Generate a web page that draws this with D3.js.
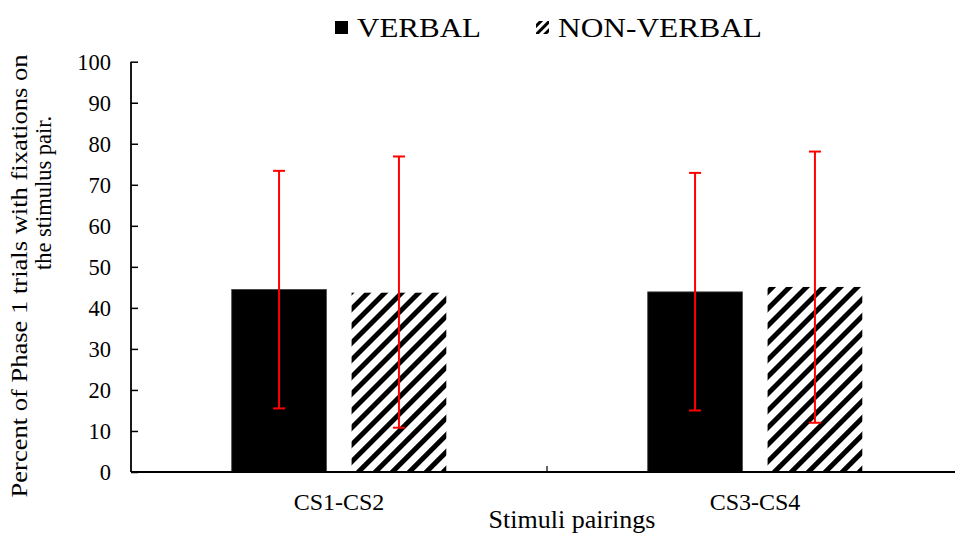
<!DOCTYPE html>
<html><head><meta charset="utf-8">
<script src="https://cdn.jsdelivr.net/npm/d3@7"></script>
<style>body{margin:0;background:#fff;} svg{display:block;font-family:"Liberation Serif","Times New Roman",serif;}</style>
</head><body><svg id="c" width="955" height="534"></svg>
<script>
const categories = ["CS1-CS2", "CS3-CS4"];
const seriesNames = ["VERBAL", "NON-VERBAL"];
const verbalValues = [44.5, 43.9];
const nonVerbalValues = [43.7, 45.1];
const verbalErrLow = [15.5, 15.0];
const verbalErrHigh = [73.4, 72.9];
const nonVerbalErrLow = [10.8, 12.0];
const nonVerbalErrHigh = [76.9, 78.1];
const yTicks = [0, 10, 20, 30, 40, 50, 60, 70, 80, 90, 100];

const svg = d3.select("#c");
const defs = svg.append("defs");
const pat = defs.append("pattern").attr("id","hatch").attr("patternUnits","userSpaceOnUse")
  .attr("width",12).attr("height",12).attr("patternTransform","rotate(45)");
pat.append("rect").attr("width",12).attr("height",12).attr("fill","#fff");
pat.append("rect").attr("x",0).attr("width",5).attr("height",12).attr("fill","#000");
const pat2 = defs.append("pattern").attr("id","hatchSmall").attr("patternUnits","userSpaceOnUse")
  .attr("width",6).attr("height",6).attr("patternTransform","rotate(45)");
pat2.append("rect").attr("width",6).attr("height",6).attr("fill","#fff");
pat2.append("rect").attr("x",0).attr("width",3).attr("height",6).attr("fill","#000");

const mLeft = 131, mRight = 963, mTop = 61.7, mBottom = 472;
const y = d3.scaleLinear().domain([0,100]).range([mBottom, mTop]);
const x0 = d3.scaleBand().domain(categories).range([mLeft, mRight]).padding(0);
const x1 = d3.scaleBand().domain(seriesNames).range([0, x0.bandwidth()]).paddingInner(0.21).paddingOuter(0.84);

const data = categories.map((c,i)=>({cat:c, vals:[
  {s:"VERBAL", v:verbalValues[i], lo:verbalErrLow[i], hi:verbalErrHigh[i]},
  {s:"NON-VERBAL", v:nonVerbalValues[i], lo:nonVerbalErrLow[i], hi:nonVerbalErrHigh[i]}]}));
const fillOf = s => s==="VERBAL" ? "#000" : "url(#hatch)";

const g = svg.append("g");
const groups = g.selectAll("g.cat").data(data).join("g").attr("transform", d=>`translate(${x0(d.cat)},0)`);
groups.selectAll("rect").data(d=>d.vals).join("rect")
  .attr("x", d=>x1(d.s)).attr("width", x1.bandwidth())
  .attr("y", d=>y(d.v)).attr("height", d=>y(0)-y(d.v))
  .attr("fill", d=>fillOf(d.s))
  .attr("stroke", d=>d.s==="VERBAL" ? "#444" : "none").attr("stroke-width",0.8);

// axes
const yAxis = d3.axisRight(y).tickValues(yTicks).tickSize(7).tickFormat("");
const ya = svg.append("g").attr("transform",`translate(${mLeft},0)`).call(yAxis);
ya.select(".domain").remove();
ya.selectAll(".tick line").attr("stroke","#000").attr("stroke-width",1.5);
svg.append("line").attr("x1",mLeft).attr("x2",mLeft).attr("y1",mTop).attr("y2",mBottom).attr("stroke","#000").attr("stroke-width",1.8);
svg.selectAll("text.ytl").data(yTicks).join("text").attr("class","ytl")
  .attr("x", 111).attr("y", d=>y(d)).attr("dy","0.35em").attr("text-anchor","end")
  .attr("font-size",22.5).text(d=>d);

svg.append("line").attr("x1",mLeft).attr("x2",955).attr("y1",mBottom).attr("y2",mBottom).attr("stroke","#000").attr("stroke-width",1.8);
// mid tick between categories
svg.append("line").attr("x1",x0(categories[1])).attr("x2",x0(categories[1])).attr("y1",mBottom).attr("y2",mBottom-6).attr("stroke","#000").attr("stroke-width",1.2);
svg.selectAll("text.xtl").data(categories).join("text").attr("class","xtl")
  .attr("x", d=>x0(d)+x0.bandwidth()/2).attr("y", 510).attr("text-anchor","middle")
  .attr("font-size",24).text(d=>d);

// error bars
const eb = groups.selectAll("g.err").data(d=>d.vals).join("g").attr("class","err")
  .attr("transform", d=>`translate(${x1(d.s)+x1.bandwidth()/2},0)`);
eb.append("line").attr("y1",d=>y(d.lo)).attr("y2",d=>y(d.hi)).attr("stroke","#f00").attr("stroke-width",2);
eb.append("line").attr("x1",-6).attr("x2",6).attr("y1",d=>y(d.lo)).attr("y2",d=>y(d.lo)).attr("stroke","#f00").attr("stroke-width",2);
eb.append("line").attr("x1",-6).attr("x2",6).attr("y1",d=>y(d.hi)).attr("y2",d=>y(d.hi)).attr("stroke","#f00").attr("stroke-width",2);

// titles
svg.append("text").attr("x",572).attr("y",528).attr("text-anchor","middle").attr("font-size",26).text("Stimuli pairings");
const yt = svg.append("text").attr("transform","rotate(-90)").attr("text-anchor","middle").attr("font-size",24);
yt.append("tspan").attr("x",-276).attr("y",27).attr("textLength",443).attr("lengthAdjust","spacingAndGlyphs").text("Percent of Phase 1 trials with fixations on");
yt.append("tspan").attr("x",-193).attr("y",51).attr("textLength",154).attr("lengthAdjust","spacingAndGlyphs").text("the stimulus pair.");

// legend
const leg = svg.append("g");
const legItems = [{s:"VERBAL", x:335, tx:357, len:124, fill:"#000"},{s:"NON-VERBAL", x:536, tx:558, len:204, fill:"url(#hatchSmall)"}];
leg.selectAll("rect").data(legItems).join("rect").attr("x",d=>d.x).attr("y",21).attr("width",13).attr("height",13).attr("fill",d=>d.fill);
leg.selectAll("text").data(legItems).join("text").attr("x",d=>d.tx).attr("y",37).attr("font-size",27)
  .attr("textLength",d=>d.len).attr("lengthAdjust","spacingAndGlyphs").text(d=>d.s);
</script></body></html>
